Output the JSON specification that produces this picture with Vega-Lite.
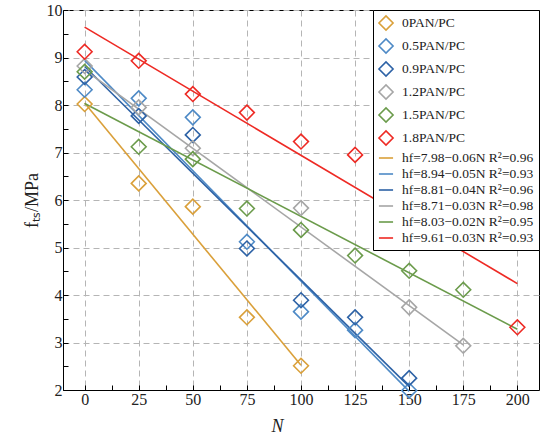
{
  "$schema": "https://vega.github.io/schema/vega-lite/v6.json",
  "autosize": {"type": "none"},
  "width": 476,
  "height": 380,
  "padding": {"left": 63, "top": 10, "right": 4, "bottom": 46},
  "background": "white",
  "config": {
    "font": "'Liberation Serif', 'Times New Roman', serif",
    "view": {"stroke": "black", "strokeWidth": 1}
  },
  "data": {
    "values": [
      {"type": "pt", "series": "0PAN/PC", "N": 0, "f": 8.02},
      {"type": "pt", "series": "0PAN/PC", "N": 25, "f": 6.35},
      {"type": "pt", "series": "0PAN/PC", "N": 50, "f": 5.86},
      {"type": "pt", "series": "0PAN/PC", "N": 75, "f": 3.53},
      {"type": "pt", "series": "0PAN/PC", "N": 100, "f": 2.51},
      {"type": "pt", "series": "0.5PAN/PC", "N": 0, "f": 8.32},
      {"type": "pt", "series": "0.5PAN/PC", "N": 25, "f": 8.14},
      {"type": "pt", "series": "0.5PAN/PC", "N": 50, "f": 7.74},
      {"type": "pt", "series": "0.5PAN/PC", "N": 75, "f": 5.12},
      {"type": "pt", "series": "0.5PAN/PC", "N": 100, "f": 3.65},
      {"type": "pt", "series": "0.5PAN/PC", "N": 125, "f": 3.26},
      {"type": "pt", "series": "0.5PAN/PC", "N": 150, "f": 1.99},
      {"type": "pt", "series": "0.9PAN/PC", "N": 0, "f": 8.59},
      {"type": "pt", "series": "0.9PAN/PC", "N": 25, "f": 7.77},
      {"type": "pt", "series": "0.9PAN/PC", "N": 50, "f": 7.37},
      {"type": "pt", "series": "0.9PAN/PC", "N": 75, "f": 4.98},
      {"type": "pt", "series": "0.9PAN/PC", "N": 100, "f": 3.89},
      {"type": "pt", "series": "0.9PAN/PC", "N": 125, "f": 3.53},
      {"type": "pt", "series": "0.9PAN/PC", "N": 150, "f": 2.25},
      {"type": "pt", "series": "1.2PAN/PC", "N": 0, "f": 8.82},
      {"type": "pt", "series": "1.2PAN/PC", "N": 25, "f": 7.95},
      {"type": "pt", "series": "1.2PAN/PC", "N": 50, "f": 7.09},
      {"type": "pt", "series": "1.2PAN/PC", "N": 100, "f": 5.83},
      {"type": "pt", "series": "1.2PAN/PC", "N": 150, "f": 3.74},
      {"type": "pt", "series": "1.2PAN/PC", "N": 175, "f": 2.93},
      {"type": "pt", "series": "1.5PAN/PC", "N": 0, "f": 8.7},
      {"type": "pt", "series": "1.5PAN/PC", "N": 25, "f": 7.12},
      {"type": "pt", "series": "1.5PAN/PC", "N": 50, "f": 6.86},
      {"type": "pt", "series": "1.5PAN/PC", "N": 75, "f": 5.82},
      {"type": "pt", "series": "1.5PAN/PC", "N": 100, "f": 5.37},
      {"type": "pt", "series": "1.5PAN/PC", "N": 125, "f": 4.83},
      {"type": "pt", "series": "1.5PAN/PC", "N": 150, "f": 4.51},
      {"type": "pt", "series": "1.5PAN/PC", "N": 175, "f": 4.11},
      {"type": "pt", "series": "1.8PAN/PC", "N": 0, "f": 9.12},
      {"type": "pt", "series": "1.8PAN/PC", "N": 25, "f": 8.93},
      {"type": "pt", "series": "1.8PAN/PC", "N": 50, "f": 8.23},
      {"type": "pt", "series": "1.8PAN/PC", "N": 75, "f": 7.84},
      {"type": "pt", "series": "1.8PAN/PC", "N": 100, "f": 7.23},
      {"type": "pt", "series": "1.8PAN/PC", "N": 125, "f": 6.95},
      {"type": "pt", "series": "1.8PAN/PC", "N": 175, "f": 5.1},
      {"type": "pt", "series": "1.8PAN/PC", "N": 200, "f": 3.32},
      {"type": "fit", "series": "hf=7.98−0.06N R²=0.96", "N": 0, "f": 8.04},
      {"type": "fit", "series": "hf=7.98−0.06N R²=0.96", "N": 100, "f": 2.52},
      {"type": "fit", "series": "hf=8.94−0.05N R²=0.93", "N": 0, "f": 8.94},
      {"type": "fit", "series": "hf=8.94−0.05N R²=0.93", "N": 150, "f": 1.97},
      {"type": "fit", "series": "hf=8.81−0.04N R²=0.96", "N": 0, "f": 8.81},
      {"type": "fit", "series": "hf=8.81−0.04N R²=0.96", "N": 150, "f": 2.07},
      {"type": "fit", "series": "hf=8.71−0.03N R²=0.98", "N": 0, "f": 8.74},
      {"type": "fit", "series": "hf=8.71−0.03N R²=0.98", "N": 175, "f": 2.95},
      {"type": "fit", "series": "hf=8.03−0.02N R²=0.95", "N": 0, "f": 8.03},
      {"type": "fit", "series": "hf=8.03−0.02N R²=0.95", "N": 200, "f": 3.28},
      {"type": "fit", "series": "hf=9.61−0.03N R²=0.93", "N": 0, "f": 9.64},
      {"type": "fit", "series": "hf=9.61−0.03N R²=0.93", "N": 200, "f": 4.24}
    ]
  },
  "encoding": {
    "x": {
      "field": "N", "type": "quantitative",
      "scale": {"domain": [-10, 210], "nice": false, "zero": false},
      "axis": {
        "title": "N",
        "titleFontStyle": "italic",
        "titleFontWeight": "normal",
        "titleFontSize": 18,
        "titleColor": "#222",
        "titleX": 214,
        "titleY": 27,
        "titleBaseline": "top",
        "values": [0, 12.5, 25, 37.5, 50, 62.5, 75, 87.5, 100, 112.5, 125, 137.5, 150, 162.5, 175, 187.5, 200],
        "labelExpr": "datum.value % 25 == 0 ? format(datum.value, 'd') : ''",
        "labelFontSize": 16,
        "labelColor": "#222",
        "labelPadding": 6,
        "domainColor": "black",
        "tickColor": "black",
        "tickSize": -5,
        "grid": true,
        "gridColor": "#b5b5b5",
        "gridDash": [6, 4],
        "gridOpacity": {"condition": {"test": "datum.value % 25 != 0", "value": 0}, "value": 1}
      }
    },
    "y": {
      "field": "f", "type": "quantitative",
      "scale": {"domain": [2, 10], "nice": false, "zero": false},
      "axis": {
        "title": "fₜₛ/MPa",
        "titleFontStyle": "normal",
        "titleFontWeight": "normal",
        "titleFontSize": 18,
        "titleColor": "#222",
        "titlePadding": 5,
        "values": [2, 2.5, 3, 3.5, 4, 4.5, 5, 5.5, 6, 6.5, 7, 7.5, 8, 8.5, 9, 9.5, 10],
        "labelExpr": "datum.value % 1 == 0 ? format(datum.value, 'd') : ''",
        "labelFontSize": 16,
        "labelColor": "#222",
        "labelPadding": 6,
        "domainColor": "black",
        "tickColor": "black",
        "tickSize": -5,
        "grid": true,
        "gridColor": "#b5b5b5",
        "gridDash": [6, 4],
        "gridOpacity": {"condition": {"test": "datum.value % 1 != 0", "value": 0}, "value": 1}
      }
    },
    "color": {
      "field": "series", "type": "nominal",
      "scale": {
        "domain": ["0PAN/PC", "0.5PAN/PC", "0.9PAN/PC", "1.2PAN/PC", "1.5PAN/PC", "1.8PAN/PC",
                   "hf=7.98−0.06N R²=0.96", "hf=8.94−0.05N R²=0.93", "hf=8.81−0.04N R²=0.96",
                   "hf=8.71−0.03N R²=0.98", "hf=8.03−0.02N R²=0.95", "hf=9.61−0.03N R²=0.93"],
        "range": ["#DAA03A", "#4E8AC6", "#2D62A6", "#A6A6A6", "#6B9B4B", "#EE2A24",
                  "#DAA03A", "#4E8AC6", "#2D62A6", "#A6A6A6", "#6B9B4B", "#EE2A24"]
      },
      "legend": {
        "title": null,
        "orient": "top-right",
        "offset": 0,
        "fillColor": "white",
        "strokeColor": "black",
        "padding": 5,
        "rowPadding": 1,
        "symbolSize": 200,
        "symbolStrokeWidth": 1.6,
        "symbolOpacity": 1,
        "labelFontSize": 13.5,
        "labelColor": "#222",
        "labelOffset": 8
      }
    }
  },
  "layer": [
    {
      "transform": [{"filter": "datum.type == 'fit'"}],
      "mark": {"type": "line", "strokeWidth": 1.6}
    },
    {
      "transform": [{"filter": "datum.type == 'pt'"}],
      "mark": {"type": "point", "filled": false, "size": 220, "strokeWidth": 1.6, "opacity": 1},
      "encoding": {
        "shape": {
          "field": "series", "type": "nominal",
          "scale": {
            "domain": ["0PAN/PC", "0.5PAN/PC", "0.9PAN/PC", "1.2PAN/PC", "1.5PAN/PC", "1.8PAN/PC",
                       "hf=7.98−0.06N R²=0.96", "hf=8.94−0.05N R²=0.93", "hf=8.81−0.04N R²=0.96",
                       "hf=8.71−0.03N R²=0.98", "hf=8.03−0.02N R²=0.95", "hf=9.61−0.03N R²=0.93"],
            "range": ["diamond", "diamond", "diamond", "diamond", "diamond", "diamond",
                      "stroke", "stroke", "stroke", "stroke", "stroke", "stroke"]
          },
          "legend": null
        }
      }
    }
  ]
}
